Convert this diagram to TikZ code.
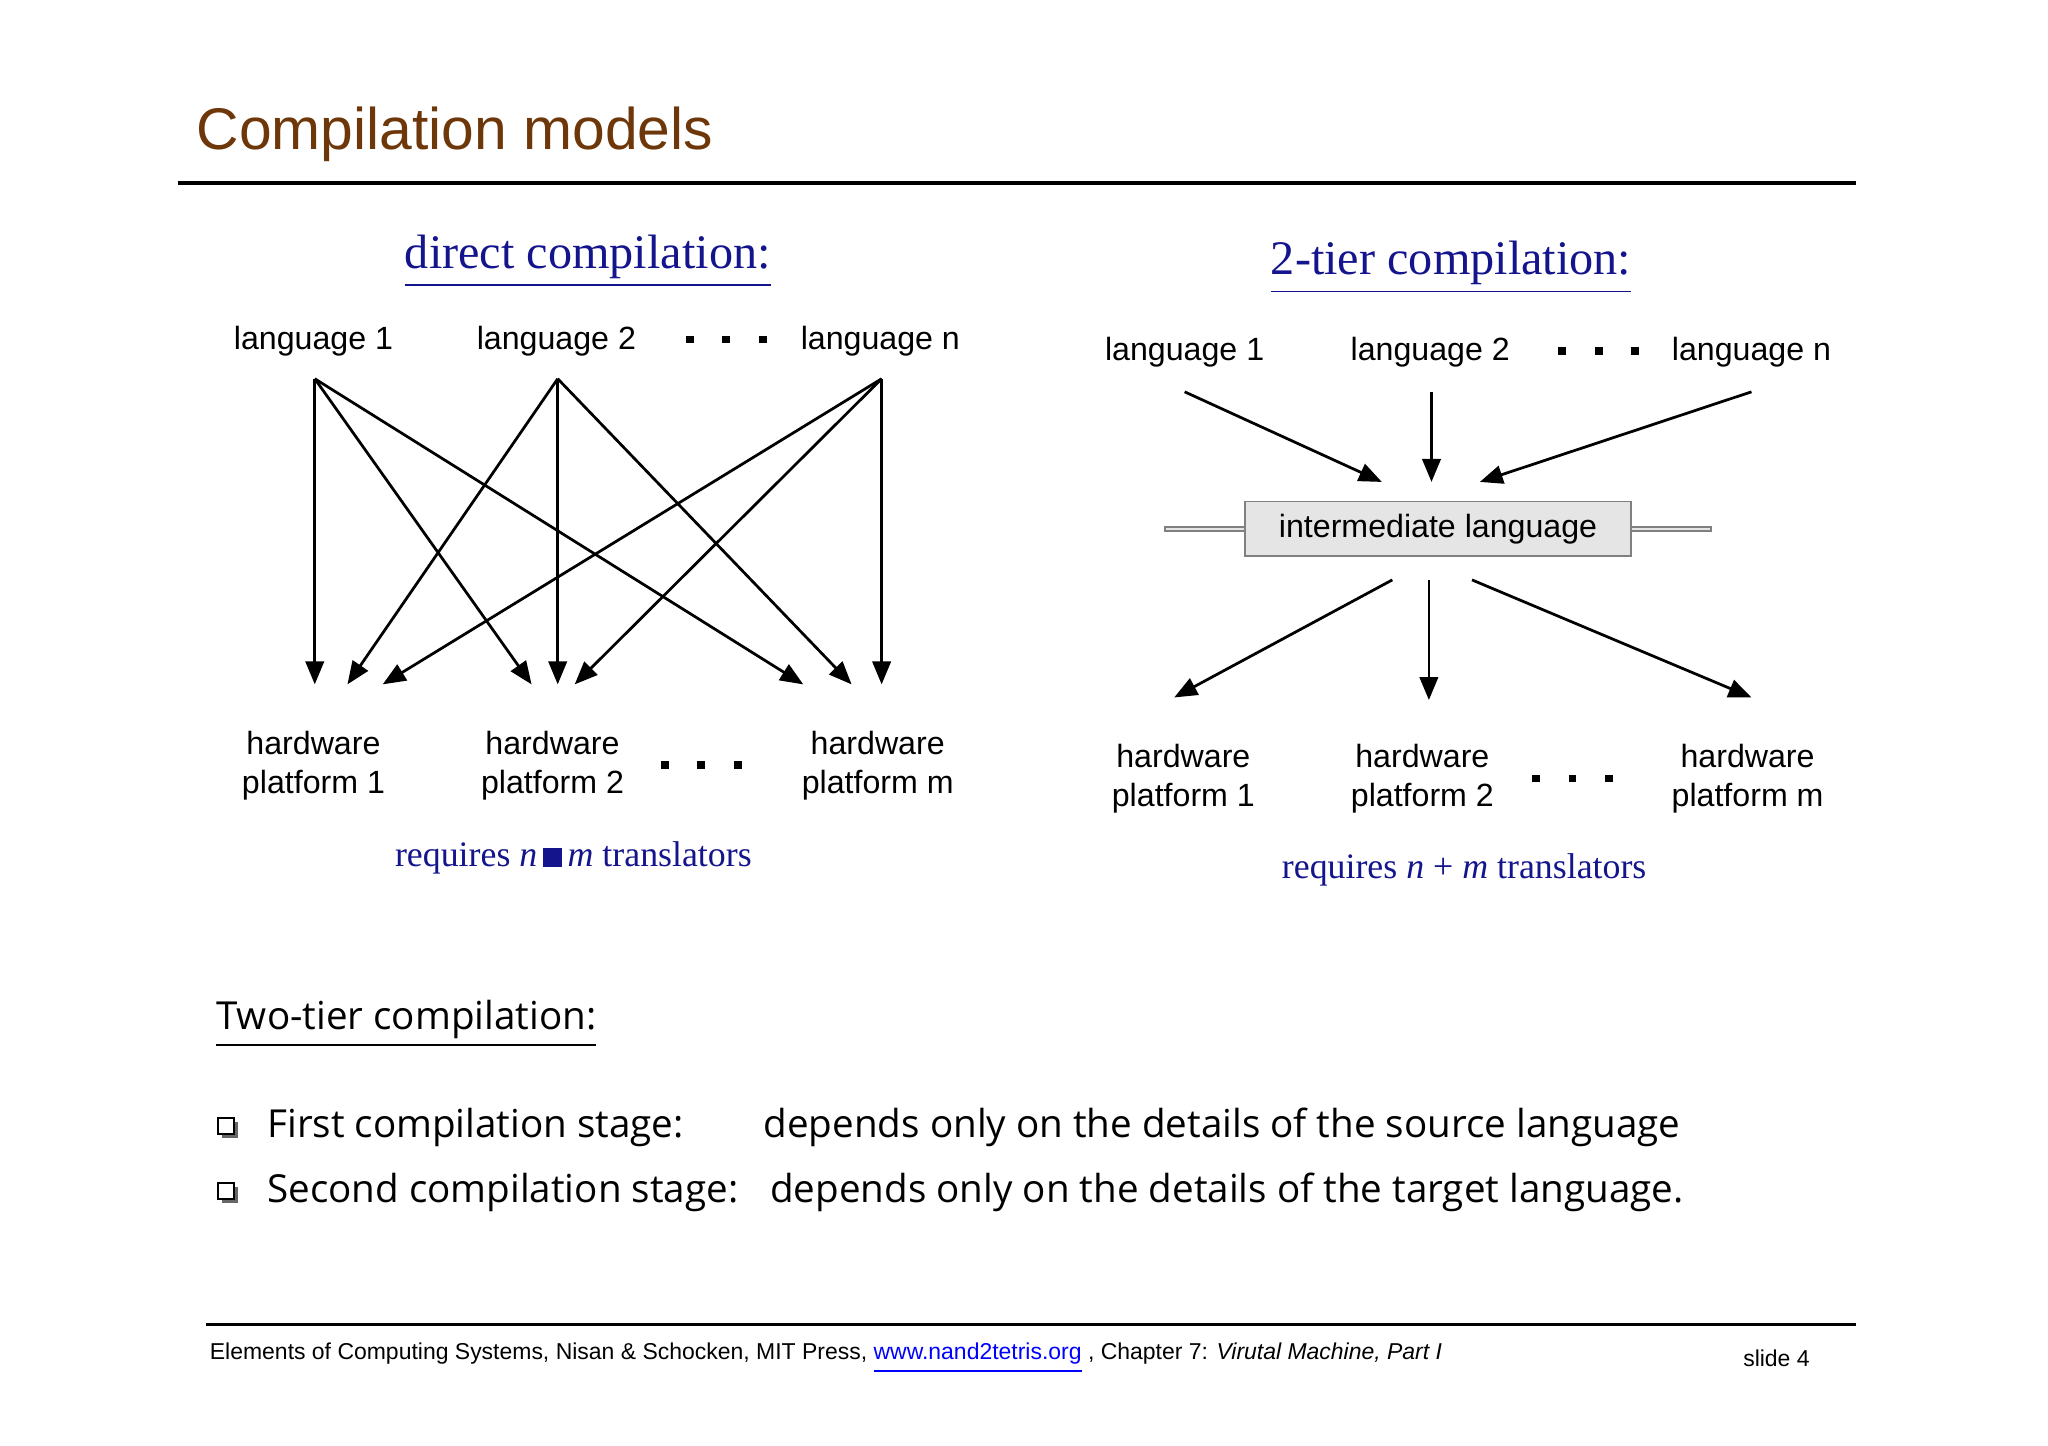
\documentclass[tikz,border=0pt]{standalone}
\usepackage{fontspec}
\setmainfont{Liberation Sans}
\newfontfamily\serifx{Liberation Serif}
\newfontfamily\comicx{Open Sans}
\usetikzlibrary{arrows.meta}
\definecolor{navy}{RGB}{20,20,140}
\definecolor{brownt}{RGB}{110,55,10}
\begin{document}
\begin{tikzpicture}[x=0.01cm,y=-0.01cm,
  lbl/.style={font=\fontsize{7}{8.5}\selectfont,align=center,inner sep=0},
  head/.style={font=\serifx\fontsize{10.5}{12}\selectfont,text=navy,inner sep=0},
  req/.style={font=\serifx\fontsize{7.8}{9}\selectfont,text=navy,inner sep=0},
  arr/.style={-{Triangle[length=5pt,width=4pt]},line width=0.6pt},
  dot/.style={fill=black,minimum size=0pt},
  btxt/.style={font=\comicx\fontsize{8.4}{10}\selectfont,anchor=west,inner sep=0}]
\useasboundingbox (0,0) rectangle (1568,1107);
\node[anchor=west,text=brownt,font=\fontsize{12.8}{14}\selectfont,inner sep=0] (title) at (150,103) {Compilation models};
\draw[line width=1pt] (136,140) -- (1421,140);
% left
\node[head] (h1) at (450,200) {\underline{direct compilation:}};
\node[lbl] (l1) at (240,261) {language 1};
\node[lbl] (l2) at (426,261) {language 2};
\node[lbl] (ln) at (674,261) {language n};
\foreach \x in {528,556,584} \fill (\x-3,257) rectangle (\x+3,263);
\coordinate (s1) at (241,290); \coordinate (s2) at (427,290); \coordinate (sn) at (675,290);
\foreach \a/\b in {s1/241, s1/407, s1/615, s2/266, s2/427, s2/652, sn/293, sn/440, sn/675}
  \draw[arr] (\a) -- (\b,524);
\node[lbl] (p1) at (240,586) {hardware\\platform 1};
\node[lbl] (p2) at (423,586) {hardware\\platform 2};
\node[lbl] (pm) at (672,586) {hardware\\platform m};
\foreach \x in {509,537,565} \fill (\x-3,583) rectangle (\x+3,589);
\node[req] (r1) at (439,657) {requires \textit{n}\,\rule{4pt}{4pt}\,\textit{m} translators};
% right
\node[head] (h2) at (1111,205) {\underline{2-tier compilation:}};
\node[lbl] (rl1) at (907,270) {language 1};
\node[lbl] (rl2) at (1095,270) {language 2};
\node[lbl] (rln) at (1341,270) {language n};
\foreach \x in {1196,1224,1252} \fill (\x-3,266) rectangle (\x+3,272);
\node[draw=black!50,fill=black!10,minimum width=297\pgflinewidth,inner sep=0,
  font=\fontsize{7}{8}\selectfont] (im) at (1101,405) {};
\fill[black!10] (953,384) rectangle (1249,426); \draw[black!50] (953,384) rectangle (1249,426);
\node[lbl] (iml) at (1101,405) {intermediate language};
\coordinate (a1) at (907,300); \coordinate (a2) at (1096,300); \coordinate (a3) at (1341,300);
\coordinate (b1) at (1058,369); \coordinate (b2) at (1096,369); \coordinate (b3) at (1133,369);
\draw[arr] (a1) -- (b1); \draw[arr] (a2) -- (b2); \draw[arr] (a3) -- (b3);
\coordinate (c1) at (1066,444); \coordinate (c2) at (1094,444); \coordinate (c3) at (1127,444);
\coordinate (d1) at (899,534); \coordinate (d2) at (1094,536); \coordinate (d3) at (1341,534);
\draw[arr] (c1) -- (d1); \draw[arr] (c2) -- (d2); \draw[arr] (c3) -- (d3);
\node[lbl] (q1) at (906,596) {hardware\\platform 1};
\node[lbl] (q2) at (1089,596) {hardware\\platform 2};
\node[lbl] (qm) at (1338,596) {hardware\\platform m};
\foreach \x in {1176,1204,1232} \fill (\x-3,593) rectangle (\x+3,599);
\node[req] (r2) at (1121,666) {requires \textit{n} + \textit{m} translators};
% bottom
\node[btxt] (tt) at (165,784) {\underline{Two-tier compilation:}};
\foreach \y in {863,913} {\fill[black!60] (170,\y-4) rectangle (182,\y+8); \draw[fill=white,line width=0.4pt] (167,\y-7) rectangle (179,\y+5);}
\node[btxt] (f1) at (204,863) {First compilation stage:};
\node[btxt] (f2) at (584,863) {depends only on the details of the source language};
\node[btxt] (g1) at (204,913) {Second compilation stage:};
\node[btxt] (g2) at (589,913) {depends only on the details of the target language.};
% footer
\draw[line width=0.6pt] (158,1014) -- (1421,1014);
\node[anchor=west,inner sep=0,font=\fontsize{5}{6}\selectfont] (ft) at (160,1040) {Elements of Computing Systems, Nisan \& Schocken, MIT Press, \textcolor{blue}{\underline{www.nand2tetris.org}} , Chapter 7: \textit{Virutal Machine, Part I}};
\node[anchor=west,inner sep=0,font=\fontsize{5}{6}\selectfont] (sl) at (1334,1040) {slide 4};
\end{tikzpicture}
\end{document}
